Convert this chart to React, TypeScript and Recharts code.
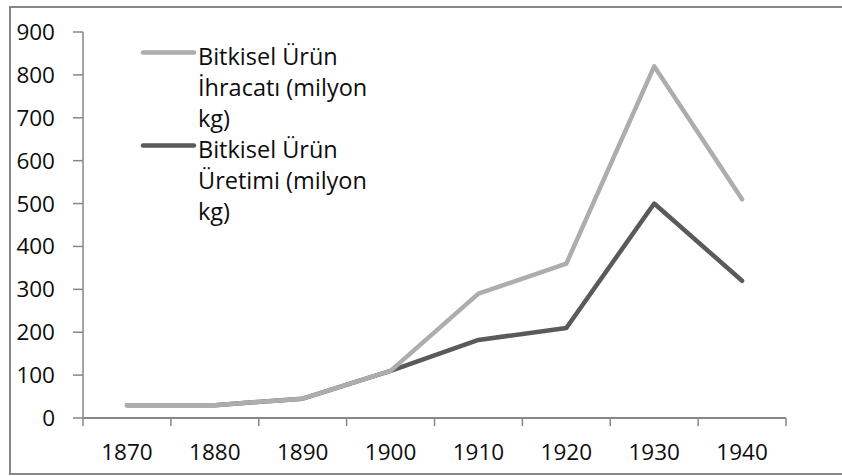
import React from 'react';
import { LineChart, Line, XAxis, YAxis, Legend } from 'recharts';

const years = ['1870', '1880', '1890', '1900', '1910', '1920', '1930', '1940'];
const exportValues = [30, 30, 45, 110, 290, 360, 820, 510];
const productionValues = [30, 30, 45, 110, 182, 210, 500, 320];
const yTicks = [0, 100, 200, 300, 400, 500, 600, 700, 800, 900];
const bandEdges = [0, 1, 2, 3, 4, 5, 6, 7, 8];

const exportName = 'Bitkisel Ürün İhracatı (milyon kg)';
const productionName = 'Bitkisel Ürün Üretimi (milyon kg)';

const LIGHT = '#ADADAD';
const DARK = '#5A5A5A';
const AXIS = '#878787';
const TEXT = '#0d0d0d';
const FONT = '"Open Sans", sans-serif';

const data = years.map((year, i) => ({
  year,
  idx: i,
  ihracat: exportValues[i],
  uretim: productionValues[i],
}));

const legendItems = [
  { name: exportName, color: LIGHT },
  { name: productionName, color: DARK },
];

const LegendContent = () => (
  <div style={{ fontFamily: FONT, fontSize: 23.5, lineHeight: '31px', color: TEXT }}>
    {legendItems.map((item) => (
      <div key={item.name} style={{ display: 'flex', alignItems: 'flex-start' }}>
        <svg width={58} height={31} style={{ flex: 'none' }}>
          <line x1={3} x2={54} y1={11.5} y2={11.5} stroke={item.color} strokeWidth={4.5} strokeLinecap="round" />
        </svg>
        <div style={{ width: 190 }}>{item.name}</div>
      </div>
    ))}
  </div>
);

export default function App() {
  return (
    <div style={{ position: 'absolute', left: 0, top: 0, width: 842, height: 476, overflow: 'hidden', background: '#fff' }}>
      <div
        style={{
          position: 'absolute',
          left: 9,
          top: 6,
          width: 900,
          height: 469,
          border: `2px solid ${AXIS}`,
          boxSizing: 'border-box',
        }}
      />
      <div style={{ position: 'absolute', left: 0, top: 0 }}>
        <LineChart width={842} height={476} data={data} margin={{ top: 32, right: 56, bottom: 18, left: 13 }}>
          <XAxis
            xAxisId="b_cat"
            dataKey="year"
            scale="band"
            height={39}
            axisLine={false}
            tickLine={false}
            tickSize={8}
            tickMargin={17}
            interval={0}
            tick={{ fill: TEXT, fontSize: 22.5, fontFamily: FONT }}
          />
          <XAxis
            xAxisId="a_edges"
            type="number"
            dataKey="idx"
            domain={[0, 8]}
            ticks={bandEdges}
            allowDataOverflow
            height={1}
            tickSize={8}
            tickFormatter={() => ''}
            stroke={AXIS}
            axisLine={{ stroke: AXIS, strokeWidth: 2 }}
            tickLine={{ stroke: AXIS, strokeWidth: 1.5 }}
          />
          <YAxis
            domain={[0, 900]}
            ticks={yTicks}
            width={70}
            tickSize={10}
            tickMargin={18}
            interval={0}
            axisLine={{ stroke: AXIS, strokeWidth: 1.5 }}
            tickLine={{ stroke: AXIS, strokeWidth: 1.5 }}
            tick={{ fill: TEXT, fontSize: 22.5, fontFamily: FONT }}
          />
          <Legend
            layout="vertical"
            align="center"
            verticalAlign="middle"
            content={<LegendContent />}
            wrapperStyle={{ left: 140, top: 41, width: 260, height: 190 }}
          />
          <Line
            xAxisId="b_cat"
            type="linear"
            dataKey="uretim"
            name={productionName}
            stroke={DARK}
            strokeWidth={4.5}
            strokeLinecap="round"
            strokeLinejoin="round"
            dot={false}
            activeDot={false}
            isAnimationActive={false}
          />
          <Line
            xAxisId="b_cat"
            type="linear"
            dataKey="ihracat"
            name={exportName}
            stroke={LIGHT}
            strokeWidth={4.5}
            strokeLinecap="round"
            strokeLinejoin="round"
            dot={false}
            activeDot={false}
            isAnimationActive={false}
          />
        </LineChart>
      </div>
    </div>
  );
}
